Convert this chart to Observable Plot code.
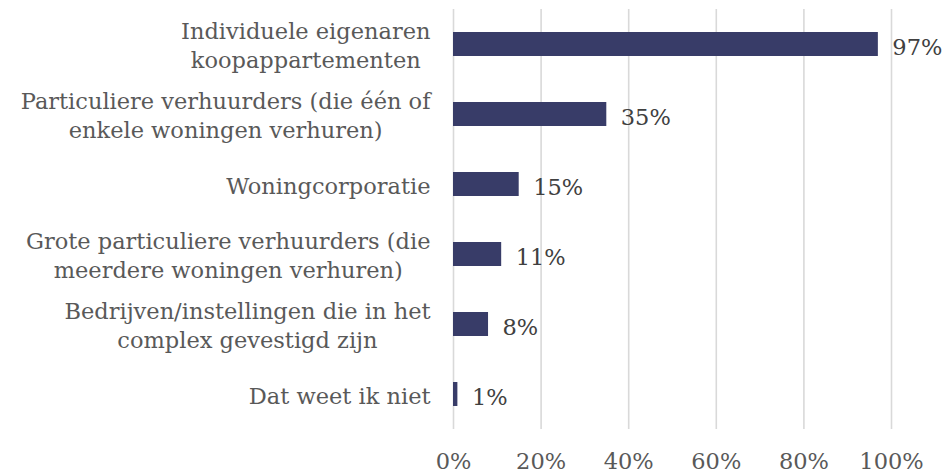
<!DOCTYPE html>
<html>
<head>
<meta charset="utf-8">
<script src="https://cdn.jsdelivr.net/npm/d3@7"></script>
<script src="https://cdn.jsdelivr.net/npm/@observablehq/plot@0.6"></script>
<style>
  html, body { margin: 0; padding: 0; background: #ffffff; }
  #chart { width: 947px; height: 476px; }
</style>
</head>
<body>
<div id="chart"></div>
<script>
const categories = [
  "Individuele eigenaren\nkoopappartementen",
  "Particuliere verhuurders (die één of\nenkele woningen verhuren)",
  "Woningcorporatie",
  "Grote particuliere verhuurders (die\nmeerdere woningen verhuren)",
  "Bedrijven/instellingen die in het\ncomplex gevestigd zijn",
  "Dat weet ik niet"
];
const values = [0.97, 0.35, 0.15, 0.11, 0.08, 0.01];
const xTicks = [0, 0.2, 0.4, 0.6, 0.8, 1.0];

const data = categories.map((c, i) => ({category: c, value: values[i]}));
const FONT = "'DejaVu Serif', serif";
const FS = 22.5;

const chart = Plot.plot({
  width: 947,
  height: 476,
  marginLeft: 453,
  marginRight: 56,
  marginTop: 9,
  marginBottom: 47,
  style: {fontFamily: FONT, background: "#ffffff"},
  x: {domain: [0, 1], ticks: xTicks, tickFormat: d3.format(".0%")},
  y: {domain: categories, paddingInner: 0.657, paddingOuter: 0.3285},
  marks: [
    Plot.ruleX(xTicks, {stroke: "#d9d9d9", strokeWidth: 1.6}),
    Plot.barX(data, {x: "value", y: "category", fill: "#383c68"}),
    Plot.text(data, {
      x: "value", y: "category", text: d => d3.format(".0%")(d.value),
      textAnchor: "start", dx: 14, dy: 3, fill: "#404040",
      fontSize: FS, fontFamily: FONT
    }),
    Plot.axisX({ticks: xTicks, tickFormat: d3.format(".0%"), tickSize: 0, tickPadding: 24,
      fontSize: FS, fill: "#595959", label: null}),
    Plot.axisY({tickSize: 0, tickPadding: 23, fontSize: FS, fill: "#595959",
      lineHeight: 1.26, label: null, lineWidth: 100})
  ]
});

document.getElementById("chart").appendChild(chart);

// center multi-line category labels on their widest line (right-aligned block)
chart.querySelectorAll('g[aria-label="y-axis tick label"] text').forEach(t => {
  const spans = Array.from(t.querySelectorAll('tspan'));
  if (spans.length < 2) return;
  const widths = spans.map(s => s.getComputedTextLength());
  const maxW = Math.max(...widths);
  spans.forEach((s, i) => {
    s.setAttribute('dx', -(maxW - widths[i]) / 2);
  });
});
</script>
</body>
</html>
